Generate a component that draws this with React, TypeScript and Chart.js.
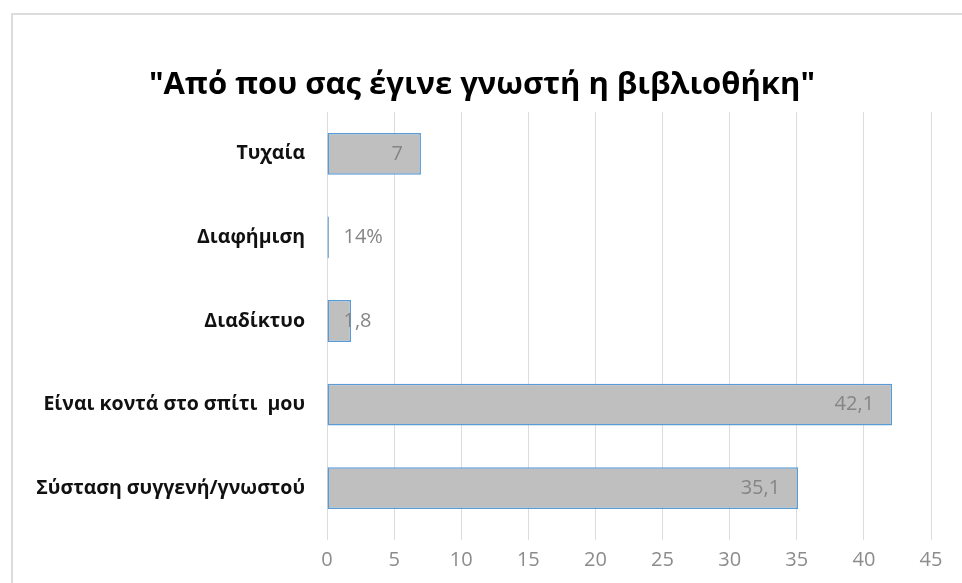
import React, { useEffect, useRef } from "react";
import { Chart, registerables } from "chart.js";

Chart.register(...registerables);

const titleText = '"Από που σας έγινε γνωστή η βιβλιοθήκη"';
const categories = [
  "Τυχαία",
  "Διαφήμιση",
  "Διαδίκτυο",
  "Είναι κοντά στο σπίτι  μου",
  "Σύσταση συγγενή/γνωστού",
];
const values = [7, 0.14, 1.8, 42.1, 35.1];
const valueLabels = ["7", "14%", "1,8", "42,1", "35,1"];
const xMin = 0;
const xMax = 45;
const xStep = 5;

const FONT = "'Open Sans', 'DejaVu Sans', sans-serif";
const TITLE_FONT = `bold 31px ${FONT}`;

const titlePlugin = {
  id: "customTitle",
  afterDraw(chart: any) {
    const ctx = chart.ctx;
    ctx.save();
    ctx.font = TITLE_FONT;
    ctx.fillStyle = "#000000";
    ctx.textAlign = "center";
    ctx.textBaseline = "alphabetic";
    ctx.fillText(titleText, 482, 94);
    ctx.restore();
  },
};

const barLabelPlugin = {
  id: "barLabels",
  afterDatasetsDraw(chart: any) {
    const ctx = chart.ctx;
    const meta = chart.getDatasetMeta(0);
    ctx.save();
    ctx.font = `20px ${FONT}`;
    ctx.fillStyle = "#858585";
    ctx.textBaseline = "middle";
    meta.data.forEach((bar: any, i: number) => {
      const txt = valueLabels[i];
      const w = ctx.measureText(txt).width;
      const base = bar.base;
      const end = bar.x;
      if (end - base > w + 36) {
        ctx.textAlign = "right";
        ctx.fillText(txt, end - 18, bar.y);
      } else {
        ctx.textAlign = "left";
        ctx.fillText(txt, base + 16, bar.y);
      }
    });
    ctx.restore();
  },
};

export default function App() {
  const ref = useRef<HTMLCanvasElement | null>(null);

  useEffect(() => {
    if (!ref.current) return;
    const chart = new Chart(ref.current, {
      type: "bar",
      data: {
        labels: categories,
        datasets: [
          {
            data: values,
            backgroundColor: "#bfbfbf",
            borderColor: "#5b9bd5",
            borderWidth: 1.5,
            borderSkipped: false,
            barPercentage: 0.5,
            categoryPercentage: 1,
          },
        ],
      },
      options: {
        indexAxis: "y",
        animation: false,
        responsive: false,
        layout: { padding: { left: 0, right: 31, top: 112, bottom: 0 } },
        plugins: {
          legend: { display: false },
          tooltip: { enabled: false },
          title: { display: false },
        },
        scales: {
          x: {
            min: xMin,
            max: xMax,
            ticks: {
              stepSize: xStep,
              color: "#8c8c8c",
              font: { family: FONT, size: 20 },
              padding: 8,
            },
            grid: { color: "#dcdcdc", tickLength: 10, drawTicks: true },
            border: { display: false },
            afterFit: (scale: any) => {
              scale.height = 53;
            },
          },
          y: {
            grid: { display: false, drawTicks: false },
            border: { display: false },
            ticks: {
              color: "#111111",
              font: { family: FONT, size: 19.5, weight: "bold" },
              padding: 22,
            },
            afterFit: (scale: any) => {
              scale.width = 327;
            },
          },
        },
      },
      plugins: [barLabelPlugin, titlePlugin],
    });
    return () => chart.destroy();
  }, []);

  return (
    <div
      style={{
        position: "fixed",
        left: 0,
        top: 0,
        width: 962,
        height: 583,
        overflow: "hidden",
        background: "#ffffff",
      }}
    >
      <div
        style={{
          position: "absolute",
          left: 11,
          top: 13,
          width: 1000,
          height: 700,
          border: "2px solid #dcdcdc",
          boxSizing: "border-box",
        }}
      />
      <canvas
        ref={ref}
        width={962}
        height={583}
        style={{ position: "absolute", left: 0, top: 0 }}
      />
    </div>
  );
}
